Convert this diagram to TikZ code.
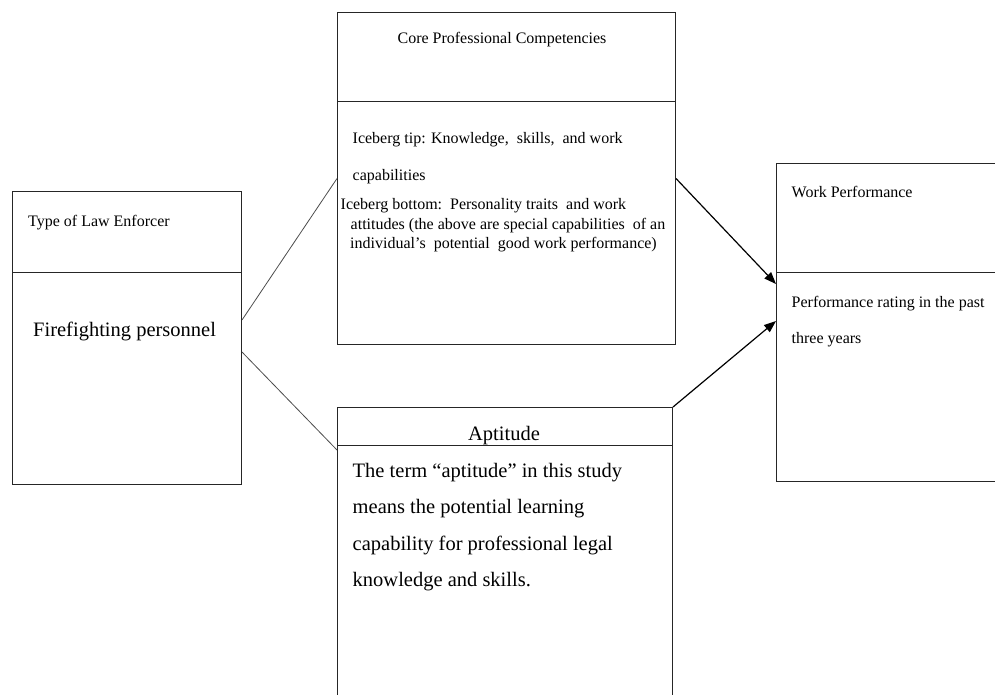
\documentclass[tikz,border=0pt]{standalone}
\usepackage{fontspec}
\setmainfont{Liberation Serif}
\usetikzlibrary{arrows.meta, calc}

\begin{document}
\begin{tikzpicture}[x=1pt, y=-1pt,
    box/.style={draw=black!85, line width=1pt, inner sep=0pt, anchor=north west},
    divider/.style={draw=black!85, line width=1pt},
    small/.style={inner sep=0pt, font=\fontsize{16}{19}\selectfont},
    large/.style={inner sep=0pt, font=\fontsize{20.5}{24}\selectfont},
    link/.style={draw=black!70, line width=0.8pt},
    flow/.style={draw=black, line width=1.2pt, -{Triangle[length=12pt,width=9pt]}}]

% Recorte da figura
\clip (0,0) rectangle (995,695);

% Caixas
\node[box, minimum width=229pt, minimum height=293pt] (lawbox) at (12,191) {};
\node[box, minimum width=338pt, minimum height=332pt] (corebox) at (337,12) {};
\node[box, minimum width=335pt, minimum height=298pt] (aptbox) at (337,407) {};
\node[box, minimum width=240pt, minimum height=318pt] (perfbox) at (776,163) {};

% Divisorias
\draw[divider] (12,272) -- (241,272);
\draw[divider] (337,102) -- (675,102);
\draw[divider] (337,445) -- (672,445);
\draw[divider] (776,272) -- (1016,272);

% Tipo de agente
\node[small, anchor=base west] (lawtitle) at (28,226) {Type of Law Enforcer};
\node[large, anchor=base west] (lawtext) at (33,336) {Firefighting personnel};

% Competencias
\node[small, anchor=base] (coretitle) at (502,44) {Core Professional Competencies};
\node[small, anchor=base west] (coreA) at (352.5,143.5) {Iceberg tip: Knowledge,\ \ skills,\ \ and work};
\node[small, anchor=base west] (coreB) at (352.5,181) {capabilities};
\node[small, anchor=base west] (coreC) at (340.5,209) {Iceberg bottom:\ \ Personality traits\ \ and work};
\node[small, anchor=base west] (coreD) at (350.5,229.5) {attitudes (the above are special capabilities\ \ of an};
\node[small, anchor=base west] (coreE) at (350,248.5) {individual’s\ \ potential\ \ good work performance)};

% Aptidao
\node[large, anchor=base] (apttitle) at (504,440) {Aptitude};
\node[large, anchor=base west] (aptA) at (352.5,477) {The term “aptitude” in this study};
\node[large, anchor=base west] (aptB) at (352.5,513.5) {means the potential learning};
\node[large, anchor=base west] (aptC) at (352.5,550) {capability for professional legal};
\node[large, anchor=base west] (aptD) at (352.5,586) {knowledge and skills.};

% Desempenho
\node[small, anchor=base west] (perftitle) at (791.5,197) {Work Performance};
\node[small, anchor=base west] (perfA) at (791.5,307.5) {Performance rating in the past};
\node[small, anchor=base west] (perfB) at (791.5,343.5) {three years};

% Ligacoes
\draw[link] ($(lawbox.north east)+(0,129)$) -- (corebox.west);
\draw[link] ($(lawbox.north east)+(0,161)$) -- ($(aptbox.north west)+(0,43)$);

% Setas
\draw[flow] (corebox.east) -- ($(perfbox.north west)+(0,121)$);
\draw[flow] (aptbox.north east) -- ($(perfbox.north west)+(0,158)$);

\end{tikzpicture}
\end{document}
